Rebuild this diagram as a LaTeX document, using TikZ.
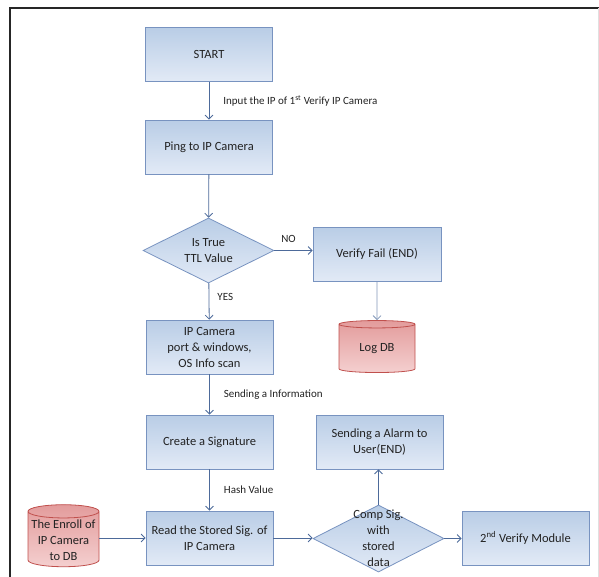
\documentclass[tikz,border=0pt]{standalone}
\usepackage{fontspec}
\setmainfont{Carlito}
\usetikzlibrary{shapes.geometric,arrows.meta}

\definecolor{boxtop}{HTML}{B9CDE6}
\definecolor{boxbot}{HTML}{E2EAF6}
\definecolor{boxline}{HTML}{7893C0}
\definecolor{dbtop}{HTML}{E39C9C}
\definecolor{dbbot}{HTML}{F4CFCF}
\definecolor{dbline}{HTML}{C0504D}
\definecolor{arrowcol}{HTML}{4D6A9A}
\definecolor{textcol}{HTML}{222222}

\tikzset{
  every node/.style={text=textcol},
  procbox/.style={rectangle, draw=boxline, line width=0.8pt,
    top color=boxtop, bottom color=boxbot,
    minimum width=127pt, minimum height=54pt, inner sep=2pt,
    align=center, font=\fontsize{12.5}{16}\selectfont},
  decision/.style={diamond, draw=boxline, line width=0.8pt,
    top color=boxtop, bottom color=boxbot,
    minimum width=131pt, minimum height=65pt, inner sep=0pt},
  dbcyl/.style={cylinder, shape border rotate=90, aspect=0.2,
    draw=dbline, line width=0.8pt, top color=dbtop, bottom color=dbbot,
    inner sep=1pt, align=center, font=\fontsize{12.5}{16}\selectfont},
  decisiontext/.style={align=center, font=\fontsize{12.5}{16}\selectfont},
  flow/.style={draw=arrowcol, line width=0.8pt,
    -{Straight Barb[length=4pt,width=8pt]}},
  flowlabel/.style={font=\fontsize{11}{13}\selectfont, inner sep=0pt}
}

\begin{document}
\begin{tikzpicture}[x=1pt, y=-1pt]
  \useasboundingbox (0,0) rectangle (599,576);

  % outer frame
  \draw[line width=1.2pt, black!85] (10,580) -- (10,8) -- (599,8);
  \draw[line width=0.6pt, black!12] (598,8) -- (598,580);

  % main column
  \node[procbox] (start)  at (209,54.5) {START};
  \node[procbox] (ping)   at (209,147)  {Ping to IP Camera};
  \node[decision] (ttl)   at (208.5,250.5) {};
  \node[decisiontext] (ttltext) at (ttl.center) {Is True\\TTL Value};
  \node[procbox] (scan)   at (209.5,347) {IP Camera\\port \& windows,\\OS Info scan};
  \node[procbox] (sig)    at (209.5,442) {Create a Signature};
  \node[procbox] (read)   at (209.5,538) {Read the Stored Sig. of\\IP Camera};

  % failure branch
  \node[procbox, minimum width=128pt] (fail) at (377,254) {Verify Fail (END)};
  \node[dbcyl, minimum width=76pt, minimum height=52pt] (logdb) at (377,349) {Log DB};

  % enrolment database
  \node[dbcyl, minimum width=71pt, minimum height=62pt] (enroll) at (63.5,540)
    {The Enroll of\\IP Camera\\to DB};

  % comparison and outcomes
  \node[decision, minimum height=67pt] (comp) at (378.5,538.5) {};
  \node[decisiontext] (comptext) at (comp.center) {Comp Sig.\\with\\stored\\data};
  \node[procbox] (alarm)  at (379.5,442) {Sending a Alarm to\\User(END)};
  \node[procbox] (second) at (525.5,538) {2\textsuperscript{nd} Verify Module};

  % connectors
  \draw[flow] (start) -- (ping)
    node[flowlabel, midway, anchor=west, xshift=14pt] (lblinput)
    {Input the IP of 1\textsuperscript{st} Verify IP Camera};
  \draw[flow] (ping) -- (ttl);
  \draw[flow] (ttl.east) -- (ttl.east -| fail.west)
    node[flowlabel, midway, anchor=south, xshift=-5pt, yshift=8pt] (lblno) {NO};
  \draw[flow] (ttl) -- (scan)
    node[flowlabel, midway, anchor=west, xshift=8pt, yshift=4.5pt] (lblyes) {YES};
  \draw[flow, draw=arrowcol!70] (fail) -- (logdb);
  \draw[flow] (scan) -- (sig)
    node[flowlabel, midway, anchor=west, xshift=14pt] (lblsend) {Sending a Information};
  \draw[flow] (sig) -- (read)
    node[flowlabel, midway, anchor=west, xshift=14pt] (lblhash) {Hash Value};
  \draw[flow] (read.west -| enroll.east) -- (read.west);
  \draw[flow] (read.east) -- (read.east -| comp.west);
  \draw[flow] (comp.north) -- (comp.north |- alarm.south);
  \draw[flow] (comp.east) -- (comp.east -| second.west);
\end{tikzpicture}
\end{document}
